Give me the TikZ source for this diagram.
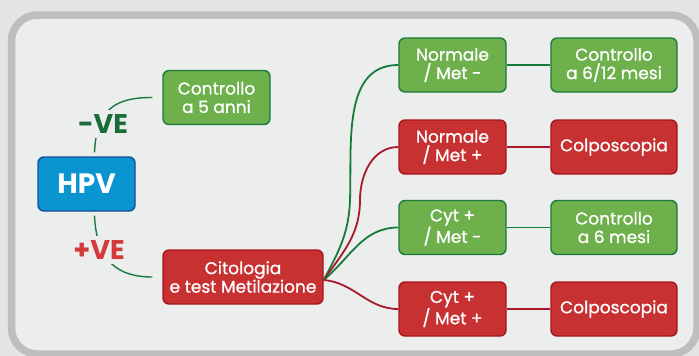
\documentclass[tikz,border=0pt]{standalone}
\usepackage{fontspec}
\setmainfont{Poppins}
\newfontfamily\boxfont{Poppins}[FakeBold=0.9]
\definecolor{bgout}{HTML}{E3E4E5}
\definecolor{panelfill}{HTML}{ECEDED}
\definecolor{panelline}{HTML}{BDBEBF}
\definecolor{gfill}{HTML}{6DB04C}
\definecolor{gline}{HTML}{1C7A3E}
\definecolor{rfill}{HTML}{C83132}
\definecolor{rline}{HTML}{A5161F}
\definecolor{bfill}{HTML}{0A95D0}
\definecolor{bline}{HTML}{124F9A}
\definecolor{gcol}{HTML}{157A3C}
\definecolor{rcol}{HTML}{A8192B}
\definecolor{vegreen}{HTML}{1A6B3A}
\definecolor{vered}{HTML}{D43A3A}
\begin{document}
\begin{tikzpicture}[x=1pt,y=-1pt,
  box/.style={draw, line width=1.4pt, rounded corners=6pt, minimum width=107pt,
    minimum height=54pt, align=center, text=white, inner sep=0pt,
    font=\boxfont\fontsize{17}{18.5}\selectfont},
  gbox/.style={box, fill=gfill, draw=gline},
  rbox/.style={box, fill=rfill, draw=rline},
  wide/.style={minimum width=126pt},
  hpvbox/.style={box, fill=bfill, draw=bline, minimum width=97pt,
    font=\fontsize{28}{30}\selectfont\bfseries},
  velabel/.style={fill=panelfill, inner sep=5pt, font=\fontsize{27}{28}\selectfont\bfseries},
  gcon/.style={draw=gcol, line width=1.8pt},
  rcon/.style={draw=rcol, line width=1.8pt}]
\useasboundingbox (0,0) rectangle (699,356);
\fill[bgout] (0,0) rectangle (699,356);
\draw[panelline, fill=panelfill, line width=7.5pt, rounded corners=26pt] (11.5,15) rectangle (697,354);

% nodes
\node[hpvbox] (hpv) at (86.5,184) {HPV};
\node[gbox] (c5) at (216.5,97.5) {Controllo\\a 5 anni};
\node[rbox, minimum width=160pt] (cit) at (243,277) {Citologia\\e test Metilazione};
\node[gbox] (n1) at (452.5,65) {Normale\\/ Met -};
\node[rbox] (n2) at (452.5,147) {Normale\\/ Met +};
\node[gbox] (n3) at (452.5,227.5) {Cyt +\\/ Met -};
\node[rbox] (n4) at (452.5,309) {Cyt +\\/ Met +};
\node[gbox, wide] (m1) at (614,65) {Controllo\\a 6/12 mesi};
\node[rbox, wide] (m2) at (614,147) {Colposcopia};
\node[gbox, wide] (m3) at (614,227.5) {Controllo\\a 6 mesi};
\node[rbox, wide] (m4) at (614,309) {Colposcopia};

% HPV branches
\draw[gcon, line width=1.4pt] ([xshift=8pt,yshift=4pt]hpv.north) .. controls +(2,-45) and +(-35,0) .. ([xshift=-10pt]c5.west);
\draw[gcon, line width=1.4pt] ([xshift=8pt,yshift=-4pt]hpv.south) .. controls +(2,45) and +(-35,0) .. ([xshift=-10pt]cit.west);
\node[velabel, text=vegreen] (neg) at (103,124) {-VE};
\node[velabel, text=vered] (pos) at (99,250) {+VE};

% fan
\coordinate (fo) at ([yshift=-3pt]cit.east);
\draw[gcon] (fo) to[out=62,in=-92] (350,200) to[out=88,in=180] (n1.west);
\draw[rcon] (fo) to[out=55,in=-90] (360,200) to[out=90,in=180] (n2.west);
\draw[gcon] (fo) to[out=40,in=180] (n3.west);
\draw[rcon] (fo) to[out=-5,in=180] (n4.west);

% horizontal links
\draw[gcon] (n1.east) -- (m1.west);
\draw[rcon] (n2.east) -- (m2.west);
\draw[gcon] (n3.east) -- (m3.west);
\draw[rcon] (n4.east) -- (m4.west);
\end{tikzpicture}
\end{document}
